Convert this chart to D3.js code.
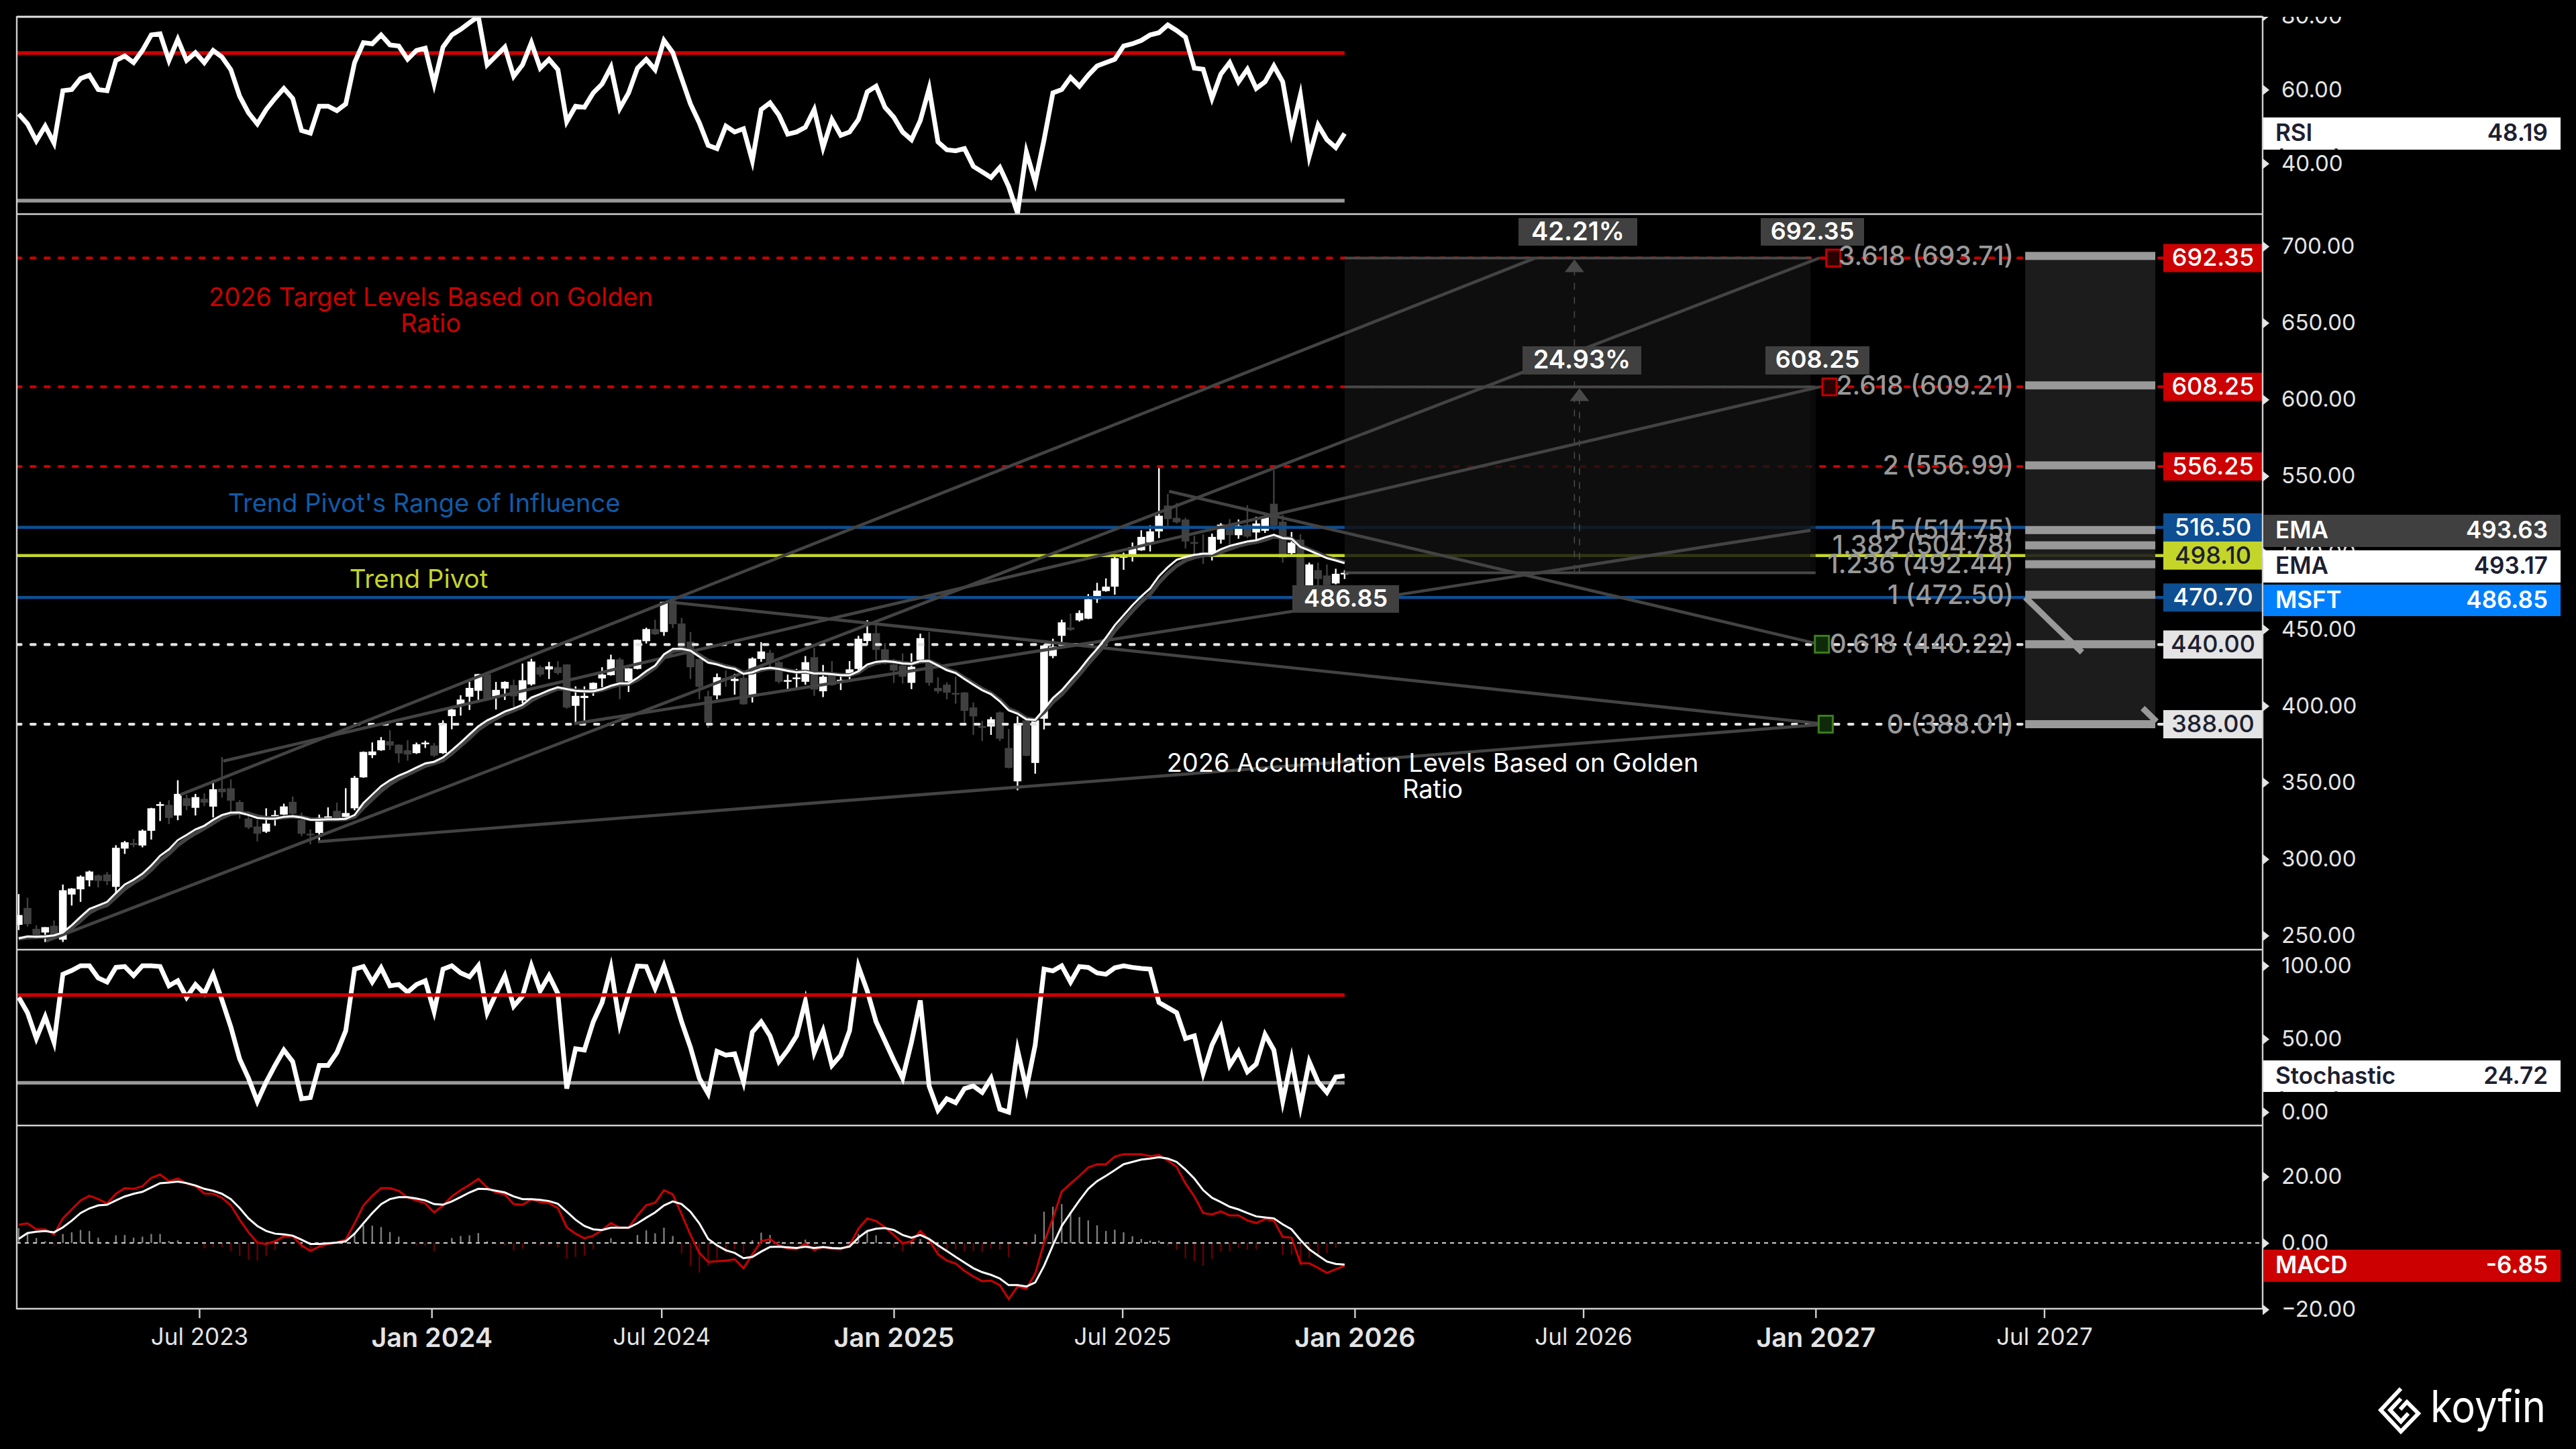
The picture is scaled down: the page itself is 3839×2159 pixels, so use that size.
<!DOCTYPE html>
<html lang="en">
<head>
<meta charset="UTF-8">
<title>MSFT weekly</title>
<script src="https://d3js.org/d3.v7.min.js"></script>
<style>
html, body { margin: 0; background: #000; }
svg { display: block; font-family: Inter, "Noto Sans", sans-serif; }
</style>
</head>
<body>
<script>
// weekly candles, [open, high, low, close]
var candles = [
[257.0,277.1,253.6,263.4],[268.0,274.7,255.9,257.5],[254.4,256.7,248.9,250.5],[252.0,255.5,245.8,255.5],[256.4,259.9,248.9,250.5],
[247.3,283.3,245.8,279.6],[276.8,281.0,269.6,280.7],[280.2,289.3,272.0,288.5],[286.1,292.4,282.1,291.8],[289.3,289.9,281.4,285.7],
[289.9,291.5,283.0,285.5],[281.8,309.0,277.1,307.3],[306.8,311.8,303.3,310.9],[310.4,313.1,307.6,309.1],[308.8,319.3,307.6,318.5],
[318.4,333.4,312.7,333.1],[335.0,337.3,324.8,335.8],[335.3,338.4,322.8,326.8],[328.4,351.4,325.3,342.5],[339.7,342.0,331.8,334.6],
[333.4,342.5,328.4,340.4],[339.3,342.8,334.6,336.8],[334.2,351.4,327.1,345.5],[345.9,366.6,340.0,343.6],[346.2,351.9,330.6,338.1],
[337.2,338.4,326.4,330.6],[326.4,331.1,319.6,320.6],[321.2,325.6,311.5,316.5],[317.8,333.1,317.0,323.1],[327.5,331.8,321.7,328.7],
[329.0,336.1,328.7,334.3],[337.3,340.8,327.9,329.5],[325.6,330.3,315.0,316.5],[316.5,319.3,309.6,315.7],[317.0,329.0,310.7,327.1],
[326.8,333.7,324.8,327.8],[331.4,336.8,324.8,326.4],[327.5,346.2,327.1,330.0],[333.1,354.2,331.8,353.0],[353.3,370.2,353.0,369.9],
[367.8,376.1,365.9,370.2],[371.0,379.6,370.6,377.5],[376.9,384.1,371.3,374.1],[374.6,374.9,362.8,368.9],[371.0,377.5,364.2,368.2],
[369.1,376.0,368.6,374.9],[375.2,377.2,372.5,376.0],[374.1,375.7,366.6,367.5],[369.1,390.5,368.6,388.6],[393.3,398.4,384.7,397.6],
[400.7,406.9,393.6,404.1],[405.9,415.6,397.3,411.7],[409.8,420.9,403.8,420.7],[420.7,421.0,403.6,403.8],[406.2,415.6,397.6,410.4],
[411.3,416.0,403.8,415.6],[413.5,417.1,398.8,406.2],[403.5,427.6,401.5,416.7],[414.0,430.7,413.2,428.9],
[425.2,426.3,419.0,420.4],[423.8,428.7,417.5,425.8],[425.2,429.2,420.4,421.4],[427.0,427.2,398.1,398.9],[400.0,412.7,388.3,406.5],
[405.1,412.7,389.0,406.5],[410.2,415.3,406.5,415.0],[417.9,425.2,412.1,420.4],[420.0,433.4,419.7,430.3],[430.3,431.4,404.3,415.3],
[416.0,424.6,409.0,424.4],[424.1,443.3,423.8,443.1],[442.2,451.0,440.7,450.1],[450.1,456.2,446.3,446.7],[448.2,468.2,445.7,467.9],
[468.6,469.4,450.7,453.3],[453.7,457.4,437.2,437.9],[441.9,448.2,417.5,425.2],[430.6,430.8,404.3,412.4],[406.2,409.8,385.6,389.0],
[406.8,421.1,404.3,418.7],[418.2,423.0,412.4,416.8],[416.2,420.9,407.3,417.6],[418.2,421.9,400.7,401.0],[406.8,431.7,402.2,430.9],
[430.6,441.6,428.7,435.5],[434.6,436.5,424.1,428.5],[428.5,429.2,414.6,415.7],[415.9,420.4,410.6,416.8],[417.6,424.1,411.7,418.5],
[415.7,432.5,413.8,428.5],[431.7,438.0,406.5,410.6],[409.5,426.7,405.7,419.0],[421.1,429.2,413.1,413.5],[416.0,420.4,410.3,417.0],
[419.7,429.2,416.8,423.8],[424.1,445.7,423.3,443.8],[442.3,455.9,440.1,447.4],[447.4,453.0,429.9,436.5],[436.9,440.9,427.0,429.9],
[427.0,430.6,414.9,423.0],[426.3,434.3,414.6,419.0],[415.0,434.3,410.9,425.5],[429.9,447.1,429.2,444.2],[429.9,448.2,413.1,415.0],
[411.7,418.5,408.0,409.5],[413.8,415.3,404.3,408.6],[408.4,419.0,401.4,407.3],[408.7,409.0,389.0,396.7],[398.9,402.2,381.0,393.1],
[386.8,390.2,377.0,385.6],[386.5,392.7,381.0,391.2],[395.7,396.3,377.0,378.5],[372.5,384.9,359.2,359.5],[350.7,393.1,344.9,388.6],
[390.5,391.2,367.1,367.4],[362.7,391.2,355.7,390.5],[391.6,440.1,384.6,439.4],[432.5,443.8,431.1,438.7],
[445.7,456.2,441.6,454.5],[451.1,460.2,448.9,449.6],[455.8,462.3,455.0,460.6],[456.9,473.0,456.6,469.6],[469.6,480.3,467.2,475.2],
[474.9,483.2,474.5,477.8],[477.8,497.1,472.6,496.4],[496.8,500.0,488.8,497.8],[498.6,506.6,494.2,503.7],[501.5,514.6,501.2,510.3],
[506.6,517.8,500.8,513.9],[513.9,555.2,509.5,524.1],[530.7,538.3,517.6,521.9],[522.7,532.4,519.0,519.8],[521.6,522.7,502.7,507.3],
[506.9,511.0,498.6,506.3],[500.3,512.0,492.7,498.6],[499.3,512.4,494.9,510.3],[508.5,519.3,505.9,518.3],[517.6,521.9,505.1,511.4],
[511.4,521.6,509.1,517.6],[518.3,531.0,509.5,510.5],[513.2,523.4,508.1,519.0],[514.3,524.6,512.9,523.7],[531.9,553.8,514.6,517.6],
[520.2,524.6,493.5,496.8],[499.7,513.5,498.6,506.6],[508.5,512.0,476.0,476.7],[476.7,493.5,475.0,492.3],[488.6,493.5,478.1,482.8],
[485.1,492.3,476.7,478.8],[479.9,489.5,479.3,486.2],[486.5,488.6,482.8,486.85]
];

var emaFast = [
248.1,249.4,249.2,249.5,250.1,252.0,256.7,262.2,267.4,269.7,272.0,277.8,283.3,286.5,290.4,295.8,302.1,306.3,312.3,315.7,
319.3,321.7,325.6,328.7,330.3,330.3,328.7,326.8,326.4,326.4,327.5,327.9,327.1,325.6,325.6,325.9,325.9,326.2,328.7,336.5,
342.0,347.5,351.4,354.5,356.9,359.7,362.4,363.5,366.3,371.0,376.0,381.4,386.6,390.5,393.2,396.3,398.3,400.7,405.4,
407.7,410.2,412.1,410.9,409.8,409.5,409.5,410.9,413.1,414.6,414.6,418.2,422.6,426.3,433.6,437.2,437.2,436.0,432.1,428.2,
427.0,425.2,424.1,420.9,421.9,424.1,424.8,424.1,422.9,421.9,422.3,421.1,421.1,420.7,420.0,420.0,422.6,427.0,428.7,429.2,
428.7,427.7,427.4,429.2,429.2,426.3,423.3,421.4,417.5,413.8,410.2,407.6,402.9,397.0,394.9,391.2,390.8,397.8,405.1,
410.2,416.8,423.3,430.6,437.2,444.5,452.6,459.1,465.7,471.5,476.7,484.7,490.5,495.3,497.1,498.6,499.3,499.3,502.2,504.4,
505.9,507.3,508.1,510.0,511.7,509.5,509.1,503.7,501.5,498.9,496.4,494.9,493.17
];

var emaSlow = [
248.0,248.8,249.0,249.2,249.6,251.0,255.0,259.8,265.0,268.0,270.0,275.2,280.5,284.5,288.0,293.0,299.0,303.5,309.0,313.2,
316.8,320.0,323.5,327.0,329.5,330.3,329.5,327.8,326.8,326.6,327.2,327.8,327.3,326.0,325.6,325.7,325.8,326.0,327.5,333.5,
339.0,344.5,349.0,352.5,355.3,358.0,360.8,362.5,364.5,369.0,374.0,379.0,384.5,388.5,391.8,394.8,397.0,399.5,403.5,
406.5,409.0,411.3,410.8,410.0,409.6,409.4,410.4,412.4,414.0,414.3,417.0,421.0,425.0,431.5,435.8,436.8,436.5,433.0,429.5,
427.5,425.8,424.5,421.5,421.6,423.5,424.5,424.3,423.2,422.2,422.3,421.3,421.2,420.8,420.2,420.0,421.8,425.8,428.0,429.0,
428.9,428.0,427.4,428.8,429.3,426.8,423.8,421.9,418.2,414.6,411.0,408.2,403.8,398.0,395.5,391.8,390.8,396.0,402.5,
407.5,414.0,420.5,427.5,434.0,441.0,449.0,455.5,462.0,468.0,473.0,480.5,486.5,491.5,495.0,497.0,498.2,498.6,500.5,502.5,
504.5,506.0,507.0,508.5,510.5,509.8,509.0,504.5,502.0,499.5,497.0,495.3,493.63
];

var rsi = [
53.5,50.8,46.2,50.2,45.6,59.8,60.1,63.1,64.0,60.1,59.8,68.0,69.2,67.4,70.7,74.9,75.2,68.0,73.7,68.0,
70.1,67.4,70.7,68.9,65.5,58.3,53.8,50.8,54.7,57.7,60.4,57.7,49.0,48.3,55.6,55.6,54.4,56.2,67.4,72.8,
72.5,74.9,72.2,71.9,68.3,70.7,71.3,61.6,71.6,74.9,76.4,78.2,79.9,66.8,69.2,71.6,63.7,66.8,72.8,65.9,
68.3,65.5,51.4,55.6,55.3,59.2,61.6,66.2,55.0,59.2,65.9,68.3,65.5,73.4,70.1,63.1,56.2,51.1,45.0,44.1,
50.2,48.6,49.5,40.8,54.7,56.5,53.2,48.0,48.6,49.9,54.7,44.4,52.0,47.7,48.6,52.0,59.5,61.0,55.3,52.6,
48.6,46.5,51.7,60.4,45.9,43.8,43.5,44.1,39.3,37.8,36.3,39.0,33.8,26.6,43.2,35.0,46.5,59.2,60.1,63.4,
61.0,64.0,66.5,67.4,68.3,71.9,72.5,73.4,74.9,75.5,77.6,76.1,74.3,65.9,65.6,57.7,64.3,67.4,62.2,65.6,
60.4,62.2,66.5,62.2,48.6,58.6,42.0,50.5,46.5,44.4,48.19
];

var stochastic = [
78.4,67.9,50.3,65.2,47.7,94.2,96.8,100,100,91.6,88.9,98.9,99.5,93.3,100,100,99.5,86.3,89.8,78.4,
87.2,81.0,94.2,76.6,58.2,36.3,23.1,7.3,20.5,31.9,42.4,34.5,9.1,9.9,31.9,31.9,40.7,55.6,97.7,99.5,
88.9,98.6,86.3,87.2,81.9,87.2,89.8,68.7,97.7,100,95.1,92.4,100,67.9,81.0,93.3,72.3,79.3,100,82.8,
93.3,81.0,16.1,43.3,42.4,61.7,74.9,98.6,60.0,81.0,99.8,99.5,84.5,100,81.9,61.7,44.2,23.1,12.6,41.5,
38.9,39.8,20.5,54.7,61.7,52.1,34.5,42.4,52.1,75.8,40.7,55.6,31.9,38.9,55.6,99.5,82.8,61.7,48.6,35.4,
23.1,47.7,76.3,17.8,1.2,9.1,6.4,16.1,17.8,13.4,23.1,2.0,0,42.4,16.1,45.9,97.7,96.5,100,88.9,
99.5,98.9,95.1,94.2,98.6,100,98.9,98.2,97.7,74.9,71.4,67.9,50.3,52.1,26.6,45.9,58.2,31.9,41.5,27.5,
32.8,53.0,42.4,7.3,36.3,3.8,34.5,20.5,13.4,24.0,24.72
];

var macdLine = [
5.5,5.9,4.1,4.1,2.6,7.4,10.1,12.8,14.2,13.2,11.9,14.8,16.5,16.3,17.1,19.6,20.6,18.6,19.4,17.9,
17.1,14.9,14.8,13.6,11.3,7.0,3.2,0.1,-0.3,0.5,2.0,2.0,-0.7,-2.4,-1.1,-0.3,0.2,1.0,5.9,11.3,
14.2,16.5,16.5,15.7,13.6,12.8,11.9,9.2,11.3,14.0,15.9,17.5,19.3,16.7,15.2,14.6,11.7,11.5,13.1,12.3,
12.0,10.5,4.7,2.8,1.4,2.2,3.9,6.0,4.6,4.6,8.3,11.4,12.1,15.9,14.6,8.6,2.4,-3.0,-5.7,-5.5,
-5.3,-4.9,-7.6,-3.4,0.5,1.2,-0.7,-1.7,-1.9,-0.1,-2.2,-1.2,-1.8,-1.9,-0.7,4.3,7.4,6.6,4.7,2.4,
-0.1,0.5,3.6,0.9,-3.4,-5.3,-6.2,-8.4,-10.1,-11.5,-11.3,-12.7,-16.9,-13.1,-13.8,-9.2,0.1,7.4,15.5,17.9,
20.2,22.7,23.7,23.7,26.0,26.7,26.7,26.7,26.1,26.5,24.8,22.9,17.9,14.0,9.0,8.6,9.5,8.3,8.3,6.8,
6.0,7.2,6.7,1.8,1.6,-6.1,-6.1,-7.5,-9.0,-7.9,-6.85
];

var macdSignal = [
1.2,3.0,3.4,3.6,3.2,4.7,6.7,9.0,10.4,11.3,11.5,12.8,14.0,14.8,15.4,16.7,18.0,18.2,18.5,18.0,
17.3,16.3,15.7,14.8,13.2,10.5,7.4,5.1,3.6,2.8,2.6,2.2,1.0,-0.3,-0.3,-0.1,0.1,0.5,2.8,5.9,
9.0,11.7,13.2,13.8,13.8,13.4,12.8,11.7,11.5,12.5,13.8,15.2,16.3,16.2,15.7,15.2,14.0,13.2,13.2,13.0,
12.6,11.8,9.4,7.0,5.1,4.1,3.9,4.6,4.6,4.6,5.9,7.6,9.2,11.3,12.5,11.7,9.4,5.9,1.2,-0.7,
-2.2,-3.0,-4.6,-4.2,-2.6,-1.2,-1.1,-1.3,-1.5,-1.1,-1.5,-1.2,-1.5,-1.6,-1.1,1.6,3.6,4.3,4.5,3.9,
2.4,1.6,2.4,1.2,-0.7,-2.4,-4.2,-5.9,-7.6,-8.8,-9.6,-10.7,-12.7,-12.7,-13.1,-11.9,-6.9,-0.7,5.1,9.0,
12.8,16.3,18.6,20.2,21.9,23.7,24.4,25.1,25.4,25.8,25.4,24.4,22.1,19.4,15.9,13.6,12.3,10.9,10.1,9.0,
8.0,7.7,7.4,5.6,4.1,0.9,-1.9,-3.8,-5.6,-6.3,-6.5
];

var macdHist = [
4.5,2.9,1.5,0.5,-0.6,2.7,3.2,3.9,3.6,1.6,0.4,2.3,2.4,1.6,1.9,2.7,2.7,0.6,0.8,-0.2,
-0.2,-1.6,-1.2,-1.2,-2.4,-3.9,-5.0,-5.3,-3.9,-2.1,-0.4,-0.2,-1.7,-2.1,-0.8,-0.2,0.1,0.5,3.1,5.4,
5.2,4.8,3.3,1.9,-0.2,-0.6,-0.9,-2.5,-0.2,1.5,2.1,2.3,3.0,0.5,-0.5,-0.6,-2.3,-1.7,-0.1,-0.7,
-0.6,-1.3,-4.7,-4.2,-3.7,-1.9,0,1.4,0,0,2.4,3.8,2.9,4.6,2.1,-3.1,-7.0,-8.9,-6.9,-4.8,
-3.1,-1.9,-3.0,0.8,3.1,2.4,0.4,-0.4,-0.4,1.0,-0.7,0,-0.3,-0.3,0.4,2.7,3.8,2.3,0.2,-1.5,
-2.5,-1.1,1.2,-0.3,-2.7,-2.9,-2.0,-2.5,-2.5,-2.7,-1.7,-2.0,-4.2,-0.4,-0.7,2.6,9.4,10.9,11.7,9.4,
7.8,6.8,5.3,3.6,4.0,3.2,2.0,1.2,0.7,0.7,-0.6,-1.9,-4.6,-5.4,-6.9,-4.8,-2.6,-2.5,-1.5,-2.0,
-1.9,-0.3,-0.5,-3.6,-3.6,-6.7,-4.6,-3.4,-3.0,-1.5,-0.3
];

var axisTicksX = ["2023-07-01","2024-01-01","2024-07-01","2025-01-01","2025-07-01","2026-01-01","2026-07-01","2027-01-01","2027-07-01"];
var ticksRsi = [40,60,80];
var ticksPrice = [250,300,350,400,450,500,550,600,650,700];
var ticksStoch = [0,50,100];
var ticksMacd = [-20,0,20];

var levelValues = [692.35,608.25,556.25,516.5,498.1,470.7,440,388];
var levelColors = ["#cc0000","#cc0000","#cc0000","#0d4f92","#c4d52a","#0d4f92","#e4e4e4","#e4e4e4"];
var levelDashed = [true,true,true,false,false,false,true,true];
var levelText = ["#fff","#fff","#fff","#fff","#1c2030","#fff","#1c2030","#1c2030"];

var fibRatios = ["3.618","2.618","2","1.5","1.382","1.236","1","0.618","0"];
var fibPrices = [693.71,609.21,556.99,514.75,504.78,492.44,472.5,440.22,388.01];

// drawn trend lines: [start date, start price, end date, end price]
var trendLines = [
  ["2023-06-16",342.0,"2026-05-24",692.35],
  ["2023-07-20",363.9,"2027-01-04",608.25],
  ["2023-03-02",246.4,"2027-01-04",692.35],
  ["2023-10-03",311.3,"2027-01-09",388],
  ["2024-04-23",388.4,"2026-12-28",514.6],
  ["2024-07-07",467.75,"2027-01-09",388],
  ["2025-08-07",540.1,"2027-01-05",440]
];
var fibKinks = [
  ["2027-06-16",470.8,"2027-07-31",434.9],
  ["2027-09-17",398.5,"2027-09-28",389.7]
];

var width = 3839, height = 2159;
var plotLeft = 25, axisX = 3372, levelEnd = 3224;
var parseDate = d3.timeParse("%Y-%m-%d");

var x = d3.scaleTime()
    .domain([new Date(2023, 1, 6, 12), new Date(2027, 11, 21)])
    .range([plotLeft, axisX]);

var firstWeek = new Date(2023, 1, 8);
var weeks = candles.map(function(d, i) { return d3.timeDay.offset(firstWeek, i * 7); });
var lastWeek = weeks[weeks.length - 1];

var yRsi = d3.scaleLinear().domain([40, 60]).range([244, 134]);
var yPrice = d3.scaleLinear().domain([250, 700]).range([1394, 367]);
var yStoch = d3.scaleLinear().domain([0, 100]).range([1657, 1439]);
var yMacd = d3.scaleLinear().domain([-20, 20]).range([1951, 1753]);

var svg = d3.select("body").append("svg")
    .attr("width", width)
    .attr("height", height)
    .style("background", "#000");

var defs = svg.append("defs");
function addClip(id, x0, y0, w, h) {
  defs.append("clipPath").attr("id", id).append("rect")
      .attr("x", x0).attr("y", y0).attr("width", w).attr("height", h);
}
addClip("clipRsi", plotLeft, 25, axisX - plotLeft, 294);
addClip("clipPrice", plotLeft, 319, axisX - plotLeft, 1096);
addClip("clipRsiAxis", axisX, 25, 460, 294);

// shaded projection boxes
var xBoxEnd1 = x(parseDate("2026-12-28")), xBoxEnd2 = x(parseDate("2027-01-01"));

var price = svg.append("g").attr("clip-path", "url(#clipPrice)");

// candles
var wk = price.append("g").selectAll("g").data(candles).enter().append("g")
    .attr("transform", function(d, i) { return "translate(" + x(weeks[i]) + ",0)"; });
wk.append("line")
    .attr("y1", function(d) { return yPrice(d[1]); })
    .attr("y2", function(d) { return yPrice(d[2]); })
    .attr("stroke", function(d) { return d[3] >= d[0] ? "#fff" : "#404040"; })
    .attr("stroke-width", 2.4);
wk.append("rect")
    .attr("x", -5.8)
    .attr("width", 11.6)
    .attr("y", function(d) { return yPrice(Math.max(d[0], d[3])); })
    .attr("height", function(d) { return Math.max(2.5, Math.abs(yPrice(d[0]) - yPrice(d[3]))); })
    .attr("fill", function(d) { return d[3] >= d[0] ? "#fff" : "#404040"; });

// levels
levelValues.forEach(function(v, i) {
  var l = price.append("line")
      .attr("x1", plotLeft).attr("x2", levelEnd)
      .attr("y1", yPrice(v)).attr("y2", yPrice(v))
      .attr("stroke", levelColors[i])
      .attr("stroke-width", levelDashed[i] ? 4.2 : 4.4);
  if (levelDashed[i]) l.attr("stroke-dasharray", "6.5 14.5").attr("stroke-linecap", "round");
});

// projection box
price.append("rect")
    .attr("x", x(lastWeek)).attr("width", xBoxEnd1 - x(lastWeek))
    .attr("y", yPrice(692.35)).attr("height", yPrice(486.85) - yPrice(692.35))
    .attr("fill", "#111").attr("opacity", 0.82);
price.append("rect")
    .attr("x", xBoxEnd1).attr("width", xBoxEnd2 - xBoxEnd1)
    .attr("y", yPrice(608.25)).attr("height", yPrice(486.85) - yPrice(608.25))
    .attr("fill", "#111").attr("opacity", 0.6);

[[692.35, xBoxEnd1], [608.25, xBoxEnd2], [486.85, xBoxEnd2]].forEach(function(d) {
  price.append("line")
      .attr("x1", x(lastWeek)).attr("x2", d[1])
      .attr("y1", yPrice(d[0])).attr("y2", yPrice(d[0]))
      .attr("stroke", "#484848").attr("stroke-width", 4);
});

// measuring arrows
[["2026-06-24", 692.35], ["2026-06-28", 608.25]].forEach(function(d) {
  var ax = x(parseDate(d[0])), ay = yPrice(d[1]);
  price.append("line")
      .attr("x1", ax).attr("x2", ax).attr("y1", ay + 16).attr("y2", yPrice(486.85))
      .attr("stroke", "#484848").attr("stroke-width", 1.6).attr("stroke-dasharray", "10 11");
  price.append("path")
      .attr("d", "M" + ax + "," + (ay + 2) + "l14.5,19h-29z")
      .attr("fill", "#484848");
});

// fib block
var xBlock0 = x(parseDate("2027-06-16")), xBlock1 = x(parseDate("2027-09-27"));
price.append("rect")
    .attr("x", xBlock0).attr("width", xBlock1 - xBlock0)
    .attr("y", yPrice(693.71) - 6).attr("height", yPrice(388.01) - yPrice(693.71) + 12)
    .attr("fill", "#1f1f1f").attr("opacity", 0.9);
price.selectAll(".fibbar").data(fibPrices).enter().append("rect")
    .attr("class", "fibbar")
    .attr("x", xBlock0).attr("width", xBlock1 - xBlock0)
    .attr("y", function(d) { return yPrice(d) - 6; })
    .attr("height", 12)
    .attr("fill", "#999");
fibKinks.forEach(function(d) {
  price.append("line")
      .attr("x1", x(parseDate(d[0]))).attr("y1", yPrice(d[1]))
      .attr("x2", x(parseDate(d[2]))).attr("y2", yPrice(d[3]))
      .attr("stroke", "#999").attr("stroke-width", 9);
});

// trend lines
trendLines.forEach(function(d) {
  price.append("line")
      .attr("x1", x(parseDate(d[0]))).attr("y1", yPrice(d[1]))
      .attr("x2", x(parseDate(d[2]))).attr("y2", yPrice(d[3]))
      .attr("stroke", "#434343").attr("stroke-width", 4.6);
});

// EMAs
function lineOf(values, yScale) {
  return d3.line()
      .x(function(d, i) { return x(weeks[i]); })
      .y(function(d) { return yScale(d); })(values);
}
price.append("path").attr("d", lineOf(emaSlow, yPrice))
    .attr("fill", "none").attr("stroke", "#434343").attr("stroke-width", 6);
price.append("path").attr("d", lineOf(emaFast, yPrice))
    .attr("fill", "none").attr("stroke", "#fff").attr("stroke-width", 3);

// fib end squares
[[692.35, "2027-01-15", "#c00000", "#2a0000"], [608.25, "2027-01-12", "#c00000", "#2a0000"],
 [440.22, "2027-01-06", "#3c7d1e", "#0f2a0a"], [388.01, "2027-01-09", "#3c7d1e", "#0f2a0a"]].forEach(function(d) {
  price.append("rect")
      .attr("x", x(parseDate(d[1])) - 10.5).attr("y", yPrice(d[0]) - 12.5)
      .attr("width", 21).attr("height", 25)
      .attr("fill", d[3]).attr("stroke", d[2]).attr("stroke-width", 3);
});

// text on the chart
function chartText(txt, cx, cy, color, size, weight, anchor) {
  return svg.append("text").attr("x", cx).attr("y", cy)
      .attr("text-anchor", anchor || "middle")
      .attr("dominant-baseline", "central")
      .attr("fill", color)
      .attr("font-size", size)
      .attr("font-weight", weight || 400)
      .text(txt);
}
fibPrices.forEach(function(p, i) {
  chartText(fibRatios[i] + " (" + p.toFixed(2) + ")", 3001, yPrice(p) - 1, "#999", 39, 500, "end");
});
chartText("2026 Target Levels Based on Golden", 642, 442, "#cc0000", 38);
chartText("Ratio", 642, 481, "#cc0000", 38);
chartText("Trend Pivot's Range of Influence", 632, 749, "#0f5ba8", 38);
chartText("Trend Pivot", 624, 862, "#c4d52a", 38.5);
chartText("2026 Accumulation Levels Based on Golden", 2135, 1136, "#fff", 38);
chartText("Ratio", 2135, 1175, "#fff", 38);

function tagBox(txt, x0, x1, y0, y1, size) {
  svg.append("rect").attr("x", x0).attr("y", y0).attr("width", x1 - x0).attr("height", y1 - y0).attr("fill", "#404040");
  chartText(txt, (x0 + x1) / 2, (y0 + y1) / 2 - 2, "#fff", size, 600);
}
tagBox("42.21%", 2263, 2440, 325, 366, 38);
tagBox("692.35", 2624, 2778, 325, 366, 36);
tagBox("24.93%", 2269, 2446, 516, 558, 38);
tagBox("608.25", 2631, 2786, 516, 558, 36);
tagBox("486.85", 1926, 2085, 872, 913, 36);

// level labels
levelValues.forEach(function(v, i) {
  svg.append("rect").attr("x", levelEnd).attr("width", axisX - levelEnd - 1)
      .attr("y", yPrice(v) - 21).attr("height", 42)
      .attr("fill", levelColors[i]);
  chartText(v.toFixed(2), (levelEnd + axisX) / 2, yPrice(v) - 1, levelText[i], 36, 500);
});

// RSI panel
var rsiG = svg.append("g").attr("clip-path", "url(#clipRsi)");
function guide(g, yv, color) {
  g.append("line").attr("x1", plotLeft).attr("x2", x(lastWeek))
      .attr("y1", yv).attr("y2", yv)
      .attr("stroke", color).attr("stroke-width", 5.4);
}
function oscLine(g, values, yScale) {
  g.append("path").attr("d", lineOf(values, yScale))
      .attr("fill", "none").attr("stroke", "#fff").attr("stroke-width", 7)
      .attr("stroke-linejoin", "miter").attr("stroke-miterlimit", 6);
}
guide(rsiG, yRsi(30), "#999");
guide(rsiG, yRsi(70), "#cc0000");
oscLine(rsiG, rsi, yRsi);

// stochastic panel
var stG = svg.append("g");
guide(stG, yStoch(20), "#999");
oscLine(stG, stochastic, yStoch);
guide(stG, yStoch(80), "#cc0000");

// MACD panel
var mg = svg.append("g");
mg.selectAll("line").data(macdHist).enter().append("line")
    .attr("x1", function(d, i) { return x(weeks[i]); })
    .attr("x2", function(d, i) { return x(weeks[i]); })
    .attr("y1", yMacd(0))
    .attr("y2", function(d) { return yMacd(d); })
    .attr("stroke", function(d) { return d >= 0 ? "#7d7d7d" : "#660000"; })
    .attr("stroke-width", 2.4);
mg.append("line").attr("x1", plotLeft).attr("x2", axisX)
    .attr("y1", yMacd(0)).attr("y2", yMacd(0))
    .attr("stroke", "#d0d0d0").attr("stroke-width", 2).attr("stroke-dasharray", "6 6");
mg.append("path").attr("d", lineOf(macdLine, yMacd))
    .attr("fill", "none").attr("stroke", "#cc0000").attr("stroke-width", 3);
mg.append("path").attr("d", lineOf(macdSignal, yMacd))
    .attr("fill", "none").attr("stroke", "#fff").attr("stroke-width", 3);

// frame
var frame = svg.append("g").attr("stroke", "#d0d0d0");
frame.append("line").attr("x1", plotLeft).attr("x2", axisX).attr("y1", 25).attr("y2", 25).attr("stroke", "#e4e4e4").attr("stroke-width", 3);
[319, 1415, 1677, 1950].forEach(function(yv) {
  frame.append("line").attr("x1", plotLeft).attr("x2", axisX).attr("y1", yv).attr("y2", yv).attr("stroke-width", 2.6);
});
frame.append("line").attr("x1", plotLeft).attr("x2", plotLeft).attr("y1", 24).attr("y2", 1951).attr("stroke-width", 2.4);
frame.append("line").attr("x1", axisX).attr("x2", axisX).attr("y1", 24).attr("y2", 1951).attr("stroke-width", 2.4);

// right axes
function rightAxis(scale, values, clip) {
  var g = svg.append("g")
      .attr("transform", "translate(" + axisX + ",0)")
      .call(d3.axisRight(scale).tickValues(values).tickSize(0).tickPadding(28).tickFormat(d3.format(".2f")));
  g.select(".domain").remove();
  g.selectAll("text").attr("fill", "#e4e4e4").attr("font-size", 33).attr("font-family", "Inter");
  g.selectAll(".tick").append("path").attr("d", "M0,-8L10,0L0,8Z").attr("fill", "#e4e4e4");
  if (clip) {
    g.attr("transform", null).attr("clip-path", "url(#" + clip + ")");
    g.selectAll(".tick").attr("transform", function(d) { return "translate(" + axisX + "," + scale(d) + ")"; });
  }
}
rightAxis(yRsi, ticksRsi, "clipRsiAxis");
rightAxis(yPrice, ticksPrice);
rightAxis(yStoch, ticksStoch);
rightAxis(yMacd, ticksMacd);

// bottom axis
var xAxisG = svg.append("g")
    .attr("transform", "translate(0,1950)")
    .call(d3.axisBottom(x).tickValues(axisTicksX.map(parseDate)).tickSize(14).tickPadding(15).tickFormat(d3.timeFormat("%b %Y")));
xAxisG.select(".domain").remove();
xAxisG.selectAll("line").attr("stroke", "#d0d0d0").attr("stroke-width", 2.4);
xAxisG.selectAll("text")
    .attr("fill", "#e4e4e4")
    .attr("font-family", "Inter")
    .attr("font-size", function(d) { return d.getMonth() === 0 ? 39.5 : 35; })
    .attr("font-weight", function(d) { return d.getMonth() === 0 ? 600 : 400; });

// last value labels beside the axis
var sideNames = ["RSI", "EMA", "EMA", "MSFT", "Stochastic", "MACD"];
var sideValues = ["48.19", "493.63", "493.17", "486.85", "24.72", "-6.85"];
var sideFill = ["#fff", "#404040", "#fff", "#0080ff", "#fff", "#cc0000"];
var sideInk = ["#1c2030", "#fff", "#1c2030", "#fff", "#1c2030", "#fff"];
var sideTop = [175, 767, 820, 871, 1580, 1862];
var sideHeight = [48, 48, 48, 47, 47, 48];
var sideNote = ["(14W)", "", "", "", "(14W)", ""];

sideNames.forEach(function(name, i) {
  var box = svg.append("svg")
      .attr("x", axisX + 1).attr("y", sideTop[i])
      .attr("width", 3816 - axisX - 1).attr("height", sideHeight[i]);
  box.append("rect").attr("width", "100%").attr("height", "100%").attr("fill", sideFill[i]);
  function put(t, px, py, anchor) {
    box.append("text").attr("x", px).attr("y", py)
        .attr("text-anchor", anchor)
        .attr("dominant-baseline", "central")
        .attr("fill", sideInk[i])
        .attr("font-size", 35).attr("font-weight", 600)
        .text(t);
  }
  put(name, 18, sideHeight[i] / 2 - 2, "start");
  put(sideValues[i], 424, sideHeight[i] / 2 - 2, "end");
  if (sideNote[i]) put(sideNote[i], 18, sideHeight[i] / 2 + 38, "start");
});

// logo
svg.append("path")
    .attr("d", "M3578,2069L3548,2101L3578,2133L3604,2106L3587,2089L3577,2100M3578,2084L3562,2101L3578,2118L3589,2106")
    .attr("fill", "none").attr("stroke", "#fff").attr("stroke-width", 6);
svg.append("text").attr("x", 3622).attr("y", 2119)
    .attr("fill", "#fff").attr("font-size", 66).attr("font-weight", 400)
    .attr("textLength", 172).attr("lengthAdjust", "spacingAndGlyphs")
    .text("koyfin");
</script>
</body>
</html>
